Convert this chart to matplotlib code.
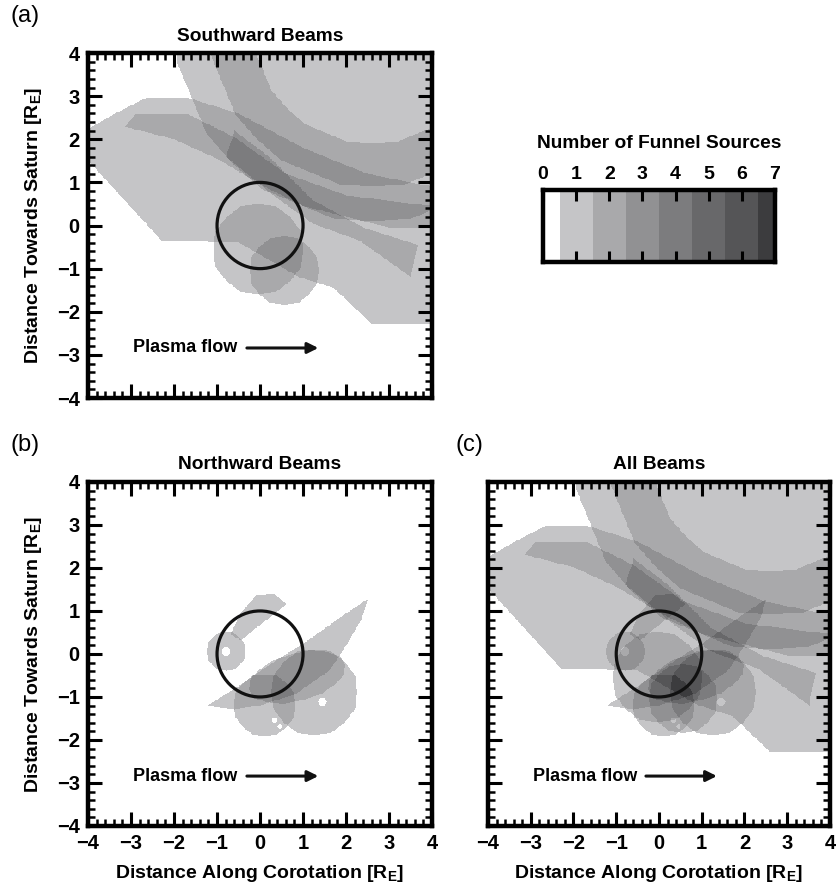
import numpy as np
import matplotlib
matplotlib.use('Agg')
import matplotlib.pyplot as plt
from matplotlib.path import Path
from matplotlib.patches import Ellipse, Circle
from matplotlib.colors import ListedColormap, BoundaryNorm

plt.rcParams['font.family'] = ['Liberation Sans', 'DejaVu Sans']
plt.rcParams['font.weight'] = 'bold'
plt.rcParams['axes.labelweight'] = 'bold'
plt.rcParams['mathtext.fontset'] = 'custom'
plt.rcParams['mathtext.rm'] = 'Liberation Sans:bold'
plt.rcParams['mathtext.bf'] = 'Liberation Sans:bold'

# grey level for 0..7 funnel sources
level_colors = ['#ffffff', '#c5c5c7', '#a9a9ab', '#919193', '#7c7c7e',
                '#68686a', '#555557', '#3c3c3e']
levels = [0, 1, 2, 3, 4, 5, 6, 7]

# funnel source footprints (R_E)
# rings: (cx, cy, r_outer, r_inner)
south_rings = [(2.6, 4.7, 4.6, 0.0),
               (2.6, 4.7, 3.8, 2.8),
               (-0.05, -0.55, 1.05, 0.0),
               (0.55, -1.05, 0.8, 0.0)]
south_polys = [
    [(-4.0, 2.25), (-3.3, 2.65), (-2.65, 2.97), (-1.7, 2.97), (-0.5, 2.6),
     (1.0, 1.8), (2.5, 1.2), (4.0, 0.9), (4.0, -2.3), (2.6, -2.3),
     (1.7, -1.45), (0.9, -1.2), (-0.5, -0.4), (-2.3, -0.35), (-4.0, 1.5)],
    [(-3.15, 2.3), (-2.9, 2.6), (-1.7, 2.6), (-0.6, 2.05), (0.6, 1.2),
     (2.0, 0.7), (4.0, 0.45), (4.0, -0.05), (3.0, -0.05), (2.0, 0.2),
     (1.0, 0.45), (0.0, 0.95), (-1.0, 1.55), (-2.0, 2.0)],
    [(-0.6, 2.2), (0.2, 1.6), (1.2, 0.6), (2.4, -0.05), (3.65, -0.45),
     (3.5, -1.2), (2.3, -0.35), (1.2, 0.05), (0.3, 0.7), (-0.8, 1.6)],
]
south_ellipses = []
south_holes = []

north_rings = [(-0.8, 0.05, 0.45, 0.0),
               (1.25, -0.9, 1.0, 0.0),
               (0.1, -1.2, 0.72, 0.0)]
north_polys = [
    [(-0.7, 0.45), (-0.45, 0.95), (-0.1, 1.35), (0.3, 1.4), (0.6, 1.15),
     (0.3, 0.9), (-0.1, 0.6), (-0.45, 0.3)],
    [(-1.25, -1.22), (-0.5, -0.75), (0.3, -0.2), (0.95, 0.2), (1.8, 0.8),
     (2.5, 1.27), (2.35, 0.8), (2.0, 0.2), (1.6, -0.4), (0.8, -0.95),
     (0.0, -1.2), (-0.6, -1.3)],
]
# (cx, cy, width, height, angle)
north_ellipses = [(0.85, -0.55, 2.3, 1.1, 15)]
north_holes = [(-0.8, 0.05, 0.1), (1.44, -1.12, 0.1),
               (0.33, -1.55, 0.06), (0.45, -1.7, 0.05)]

grid = np.linspace(-4, 4, 401)
X, Y = np.meshgrid(grid, grid)
pts = np.column_stack([X.ravel(), Y.ravel()])


def count_map(rings, polys, ellipses, holes):
    n = np.zeros(len(pts))
    for cx, cy, ro, ri in rings:
        n += Path.circle((cx, cy), ro).contains_points(pts)
        if ri > 0:
            n -= Path.circle((cx, cy), ri).contains_points(pts)
    for p in polys:
        n += Path(p + [p[0]], closed=True).contains_points(pts)
    for cx, cy, w, h, a in ellipses:
        e = Ellipse((cx, cy), w, h, angle=a)
        n += e.get_path().transformed(e.get_patch_transform()).contains_points(pts)
    for cx, cy, r in holes:
        n -= Path.circle((cx, cy), r).contains_points(pts)
    return np.clip(n, 0, 7).reshape(X.shape)


south = count_map(south_rings, south_polys, south_ellipses, south_holes)
north = count_map(north_rings, north_polys, north_ellipses, north_holes)
both = np.clip(south + north, 0, 7)

cmap = ListedColormap(level_colors)
norm = BoundaryNorm(np.arange(-0.5, 8.5, 1), cmap.N)

fig = plt.figure(figsize=(8.36, 8.91), dpi=100)
ax_a = fig.add_axes([0.1053, 0.5533, 0.4115, 0.3872])
ax_b = fig.add_axes([0.1053, 0.0730, 0.4115, 0.3861])
ax_c = fig.add_axes([0.5837, 0.0730, 0.4091, 0.3861])
ax_cb = fig.add_axes([0.6495, 0.7059, 0.2775, 0.0808])

panels = [(ax_a, south, 'Southward Beams', '(a)', -0.225),
          (ax_b, north, 'Northward Beams', '(b)', -0.225),
          (ax_c, both, 'All Beams', '(c)', -0.095)]

for ax, cnt, title, tag, tx in panels:
    ax.imshow(cnt, cmap=cmap, norm=norm, extent=[-4, 4, -4, 4],
              origin='lower', interpolation='nearest', aspect='auto')
    ax.add_patch(Circle((0, 0), 1.0, fill=False, lw=2.3, color='#111111'))
    ax.set_xlim(-4, 4)
    ax.set_ylim(-4, 4)
    ax.set_xticks(range(-4, 5))
    ax.set_yticks(range(-4, 5))
    ax.set_xticks(np.arange(-4, 4.01, 0.2), minor=True)
    ax.set_yticks(np.arange(-4, 4.01, 0.2), minor=True)
    ax.tick_params(which='major', direction='in', length=10, width=2.2,
                   top=True, right=True, labelsize=14.5, pad=6)
    ax.tick_params(which='minor', direction='in', length=5, width=1.8,
                   top=True, right=True)
    for s in ax.spines.values():
        s.set_linewidth(3.2)
    ax.set_title(title, fontsize=13.8, fontweight='bold', pad=9)
    ax.text(-2.95, -2.84, 'Plasma flow', fontsize=13, fontweight='bold',
            va='center', ha='left')
    ax.annotate('', xy=(1.42, -2.84), xytext=(-0.37, -2.84),
                arrowprops=dict(arrowstyle='-|>', lw=2.2, color='#111111',
                                mutation_scale=16))
    ax.text(tx, 1.075, tag, transform=ax.transAxes, fontsize=17,
            fontweight='normal', va='bottom', ha='left')

ylab = 'Distance Towards Saturn [R$_\\mathrm{E}$]'
xlab = 'Distance Along Corotation [R$_\\mathrm{E}$]'
for ax in (ax_a, ax_b):
    ax.set_ylabel(ylab, fontsize=14, fontweight='bold', labelpad=9)
for ax in (ax_b, ax_c):
    ax.set_xlabel(xlab, fontsize=14, fontweight='bold', labelpad=7)
ax_a.tick_params(labelbottom=False)
ax_c.tick_params(labelleft=False)

# colour key
edges = [0, 0.5, 1.5, 2.5, 3.5, 4.5, 5.5, 6.5, 7]
ax_cb.pcolormesh(edges, [0, 1], np.array([levels]), cmap=cmap, norm=norm)
ax_cb.set_xlim(0, 7)
ax_cb.set_ylim(0, 1)
ax_cb.set_yticks([])
ax_cb.set_xticks(levels)
ax_cb.tick_params(axis='x', direction='in', length=8, width=2.2,
                  top=True, bottom=True, labeltop=True, labelbottom=False,
                  labelsize=14, pad=5)
for s in ax_cb.spines.values():
    s.set_linewidth(3.2)
ax_cb.set_title('Number of Funnel Sources', fontsize=13.8, fontweight='bold',
                pad=30)

fig.savefig('out.png', dpi=100)
